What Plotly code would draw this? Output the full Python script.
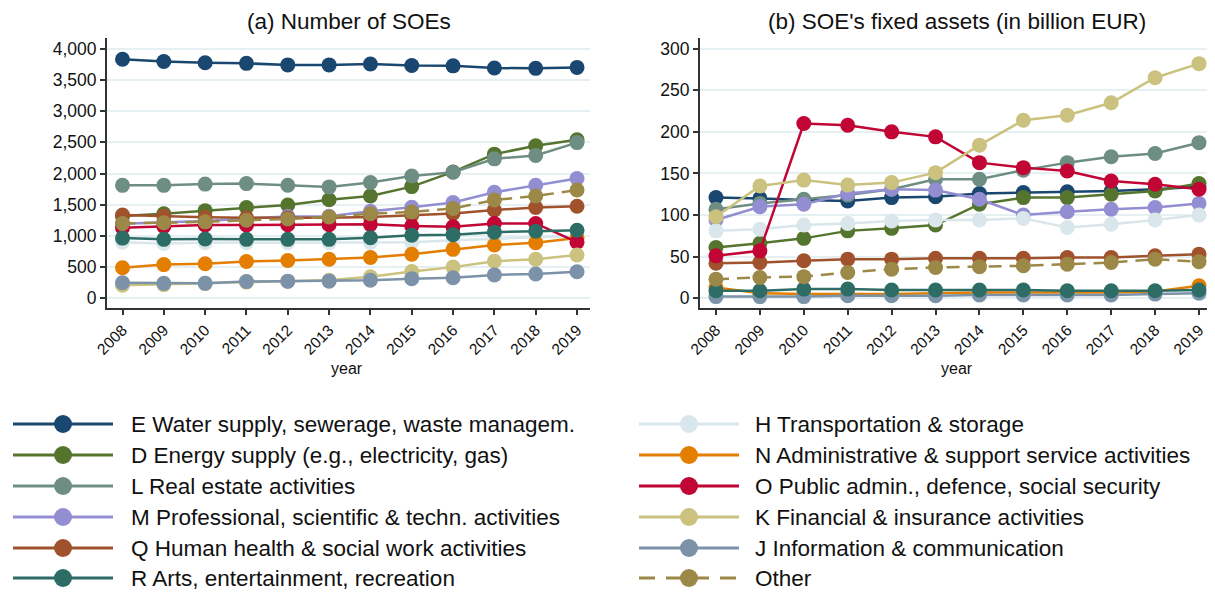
import plotly.graph_objects as go

years = list(range(2008, 2020))

# (a) number of SOEs
E_n = [3830, 3795, 3775, 3765, 3740, 3740, 3755, 3730, 3725, 3690, 3685, 3700]
D_n = [1320, 1355, 1405, 1455, 1495, 1580, 1640, 1790, 2025, 2310, 2445, 2540]
L_n = [1810, 1810, 1830, 1838, 1811, 1785, 1855, 1960, 2020, 2235, 2290, 2495]
M_n = [1195, 1215, 1240, 1280, 1310, 1315, 1395, 1460, 1535, 1700, 1810, 1920]
Q_n = [1335, 1315, 1300, 1290, 1285, 1290, 1305, 1330, 1360, 1415, 1455, 1475]
R_n = [965, 945, 950, 945, 945, 945, 970, 1010, 1020, 1060, 1075, 1090]
H_n = [900, 880, 890, 890, 890, 890, 895, 900, 930, 960, 980, 1000]
N_n = [490, 540, 555, 590, 605, 625, 655, 705, 785, 855, 890, 965]
O_n = [1130, 1150, 1175, 1175, 1180, 1180, 1185, 1160, 1145, 1200, 1200, 900]
K_n = [210, 220, 240, 260, 270, 290, 345, 430, 500, 595, 625, 695]
J_n = [250, 240, 240, 270, 275, 275, 290, 315, 330, 375, 390, 425]
Other_n = [1200, 1210, 1225, 1250, 1270, 1305, 1355, 1385, 1440, 1575, 1640, 1735]

# (b) fixed assets, billion EUR
E_a = [121, 120, 118, 117, 121, 122, 126, 127, 128, 129, 131, 134]
D_a = [61, 66, 72, 81, 84, 88, 113, 121, 121, 125, 129, 138]
L_a = [107, 114, 119, 124, 131, 143, 143, 154, 163, 170, 174, 187]
M_a = [94, 110, 113, 126, 131, 130, 119, 100, 104, 107, 109, 114]
Q_a = [42, 43, 45, 47, 47, 48, 48, 48, 49, 49, 51, 53]
R_a = [9, 9, 11, 11, 10, 10, 10, 10, 9, 9, 9, 10]
H_a = [81, 83, 88, 90, 93, 94, 94, 96, 85, 89, 94, 100]
N_a = [13, 6, 5, 5, 5, 6, 7, 7, 7, 7, 8, 15]
O_a = [51, 57, 210, 208, 200, 194, 163, 157, 153, 141, 137, 131]
K_a = [98, 135, 142, 136, 139, 151, 184, 214, 220, 235, 265, 282]
J_a = [2, 2, 2, 3, 3, 3, 4, 4, 4, 4, 5, 6]
Other_a = [23, 25, 26, 31, 35, 37, 38, 39, 41, 43, 47, 44]

labels = {
    "E": "E Water supply, sewerage, waste managem.",
    "D": "D Energy supply (e.g., electricity, gas)",
    "L": "L Real estate activities",
    "M": "M Professional, scientific & techn. activities",
    "Q": "Q Human health & social work activities",
    "R": "R Arts, entertainment, recreation",
    "H": "H Transportation & storage",
    "N": "N Administrative & support service activities",
    "O": "O Public admin., defence, social security",
    "K": "K Financial & insurance activities",
    "J": "J Information & communication",
    "Other": "Other",
}
colors = {
    "E": "#1a476f", "D": "#55752f", "L": "#6e8e84", "M": "#938dd2",
    "Q": "#a0522d", "R": "#2d6d66", "H": "#d9e6eb", "N": "#e37e00",
    "O": "#c10534", "K": "#cac27e", "J": "#7b92a8", "Other": "#9c8847",
}
counts = {"E": E_n, "D": D_n, "L": L_n, "M": M_n, "Q": Q_n, "R": R_n, "H": H_n,
          "N": N_n, "O": O_n, "K": K_n, "J": J_n, "Other": Other_n}
assets = {"E": E_a, "D": D_a, "L": L_a, "M": M_a, "Q": Q_a, "R": R_a, "H": H_a,
          "N": N_a, "O": O_a, "K": K_a, "J": J_a, "Other": Other_a}

draw_order = ["E", "D", "L", "M", "Q", "H", "N", "O", "K", "J", "R", "Other"]
legend_left = ["E", "D", "L", "M", "Q", "R"]
legend_right = ["H", "N", "O", "K", "J", "Other"]

# page body has an 8px margin, so the figure is made 8px smaller and
# all layout positions below are given in window pixels
OFF = 8
W, H = 1215 - OFF, 592 - OFF
FONT = "Liberation Sans, Arial, sans-serif"

def px(x):
    return (x - OFF) / W

def py(y):
    return 1 - (y - OFF) / H

fig = go.Figure()

def dash_of(k):
    return "13px,8px" if k == "Other" else "solid"

for k in draw_order:
    fig.add_trace(go.Scatter(x=years, y=counts[k], mode="lines+markers", name=labels[k],
                             line=dict(color=colors[k], width=2.5, dash=dash_of(k)),
                             marker=dict(color=colors[k], size=15), showlegend=False,
                             xaxis="x", yaxis="y"))
    fig.add_trace(go.Scatter(x=years, y=assets[k], mode="lines+markers", name=labels[k],
                             line=dict(color=colors[k], width=2.5, dash=dash_of(k)),
                             marker=dict(color=colors[k], size=15), showlegend=False,
                             xaxis="x2", yaxis="y2"))

# hand-made legend, axis 3 is in window pixels
rows = [424, 455, 486, 517, 548, 578]
for col, (x0, x1, tx) in zip([legend_left, legend_right], [(13, 113, 129), (639, 739, 753)]):
    for k, ry in zip(col, rows):
        fig.add_trace(go.Scatter(x=[x0, x1], y=[ry, ry], mode="lines",
                                 line=dict(color=colors[k], width=3, dash="16px,11px" if k == "Other" else "solid"),
                                 showlegend=False, hoverinfo="skip", xaxis="x3", yaxis="y3"))
        fig.add_trace(go.Scatter(x=[(x0 + x1) / 2], y=[ry], mode="markers",
                                 marker=dict(color=colors[k], size=18),
                                 showlegend=False, hoverinfo="skip", xaxis="x3", yaxis="y3"))
        fig.add_annotation(x=tx, y=ry, xref="x3", yref="y3", text=labels[k], showarrow=False,
                           xanchor="left", yanchor="middle", font=dict(size=22.5, color="#111"))

ydom = [py(308), py(38)]
axis_common = dict(showline=True, linecolor="#333", linewidth=2, ticks="outside", ticklen=5,
                   tickcolor="#333", tickwidth=1.5, zeroline=False, automargin=False,
                   tickfont=dict(size=17.5, color="#111", family=FONT))
xtick_font = dict(size=15.5, color="#111", family=FONT)

fig.update_layout(
    template="none",
    width=W, height=H, margin=dict(l=0, r=0, t=0, b=0, pad=0),
    paper_bgcolor="white", plot_bgcolor="white",
    font=dict(family=FONT, color="#111"),
    showlegend=False,
    xaxis=dict(domain=[px(107), px(590)], range=[2007.625, 2019.314], tickvals=years,
               tickangle=-45, showgrid=False, anchor="y",
               **{**axis_common, "tickfont": xtick_font}),
    yaxis=dict(domain=ydom, range=[-155, 4171], tickvals=list(range(0, 4001, 500)),
               tickformat=",d", showgrid=True, gridcolor="#e6eff1", gridwidth=1.5, anchor="x",
               **axis_common),
    xaxis2=dict(domain=[px(700), px(1212)], range=[2007.636, 2019.296], tickvals=years,
                tickangle=-45, showgrid=False, anchor="y2",
                **{**axis_common, "tickfont": xtick_font}),
    yaxis2=dict(domain=ydom, range=[-11.7, 312.8], tickvals=list(range(0, 301, 50)),
                showgrid=True, gridcolor="#e6eff1", gridwidth=1.5, anchor="x2",
                **axis_common),
    xaxis3=dict(domain=[0, 1], range=[OFF, 1215], visible=False, fixedrange=True, anchor="y3",
                automargin=False),
    yaxis3=dict(domain=[0, py(392)], range=[592, 392], visible=False, fixedrange=True, anchor="x3",
                automargin=False),
)

titles = [(349, 22, "(a) Number of SOEs", 22.5), (957, 22, "(b) SOE's fixed assets (in billion EUR)", 22.5),
          (347, 368, "year", 16), (957, 368, "year", 16)]
for x, y, t, s in titles:
    fig.add_annotation(x=px(x), y=py(y), xref="paper", yref="paper", text=t, showarrow=False,
                       xanchor="center", yanchor="middle", font=dict(size=s, color="#111"))

fig.write_html("out.html")
